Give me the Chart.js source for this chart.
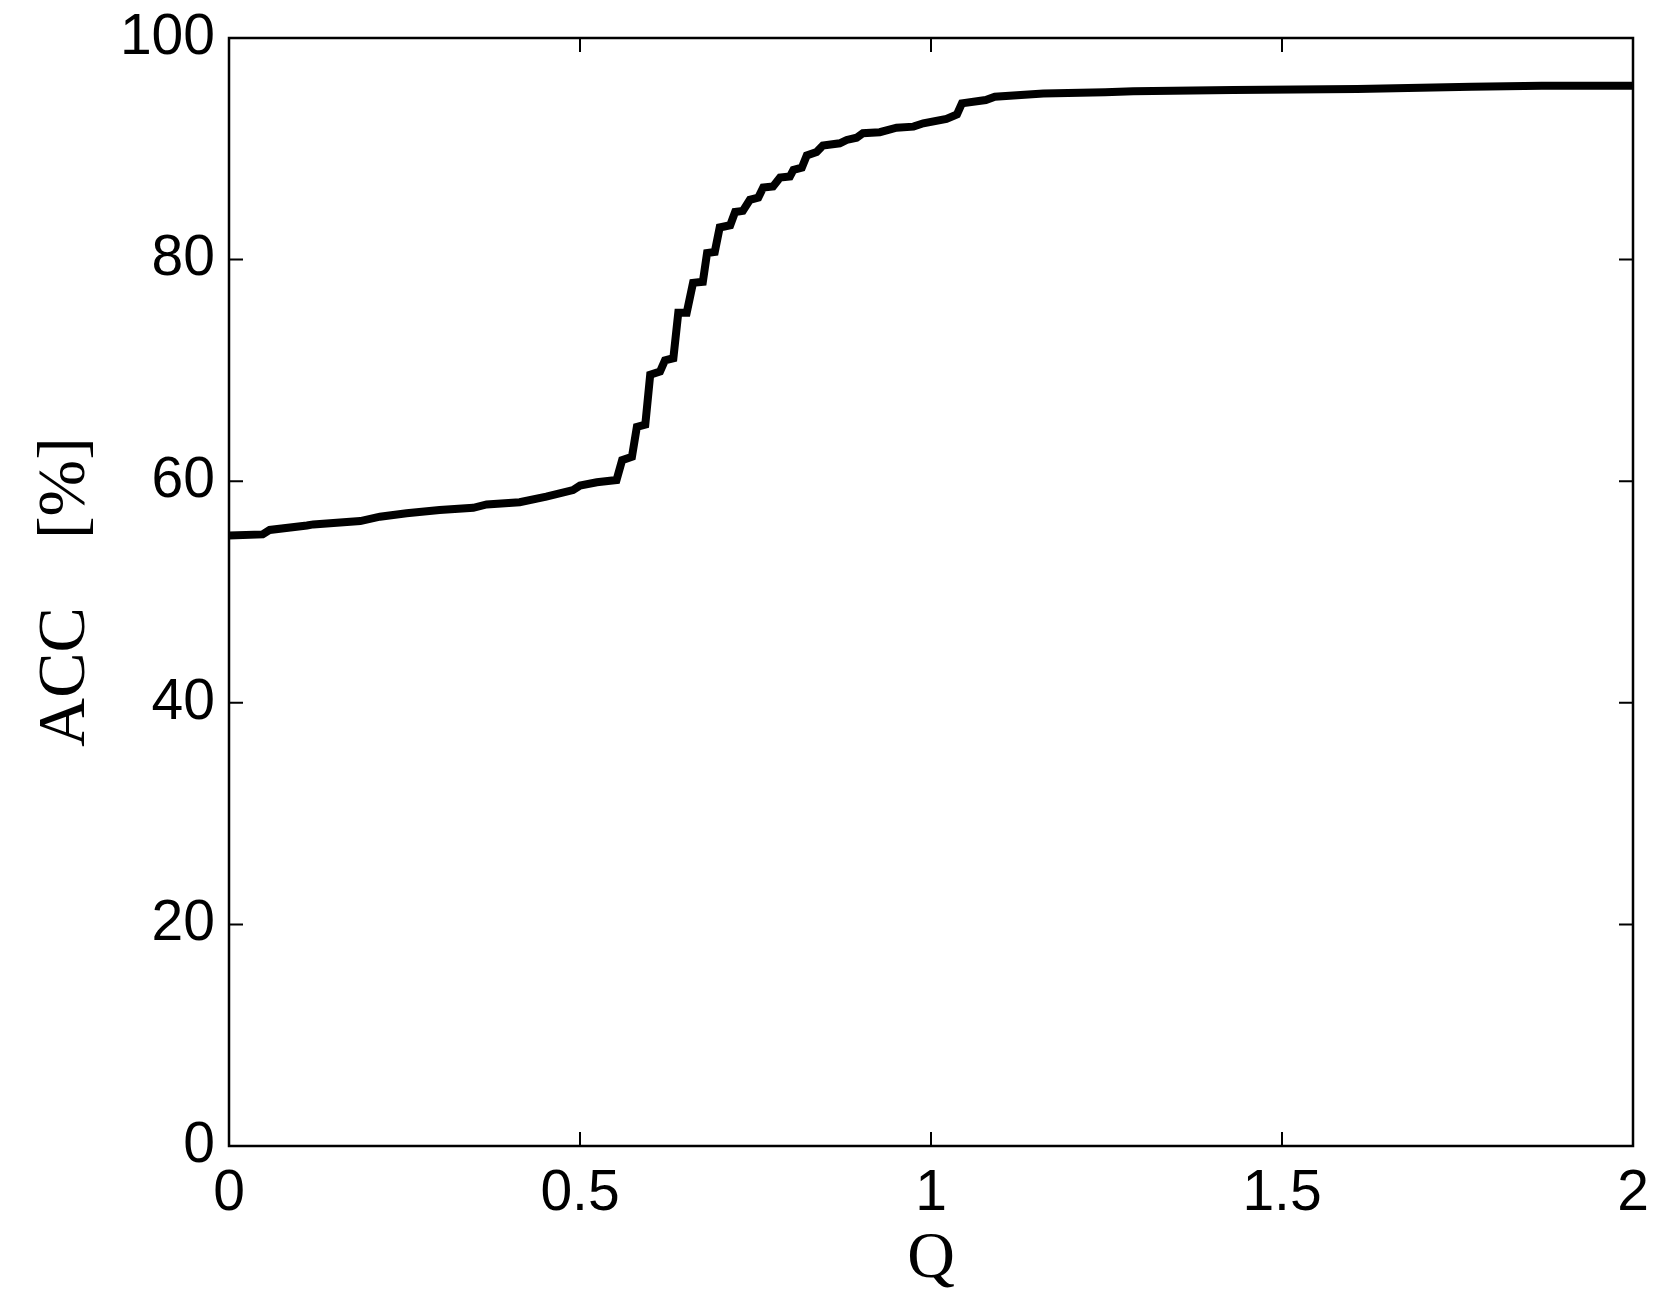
<!DOCTYPE html>
<html>
<head>
<meta charset="utf-8">
<script src="https://cdn.jsdelivr.net/npm/chart.js@4/dist/chart.umd.min.js"></script>
<style>
  html, body { margin: 0; padding: 0; background: #ffffff; }
  #wrap { width: 1668px; height: 1303px; }
</style>
</head>
<body>
<div id="wrap"><canvas id="c" width="1668" height="1303"></canvas></div>
<script>
// Data
const qValues = [0, 0.048, 0.058, 0.111, 0.12, 0.187, 0.215, 0.253, 0.3, 0.348, 0.367, 0.414, 0.452, 0.49, 0.5, 0.524, 0.552, 0.56, 0.574, 0.581, 0.593, 0.6, 0.614, 0.621, 0.633, 0.64, 0.652, 0.661, 0.675, 0.681, 0.692, 0.699, 0.714, 0.721, 0.732, 0.742, 0.754, 0.761, 0.775, 0.785, 0.799, 0.804, 0.816, 0.823, 0.837, 0.846, 0.870, 0.880, 0.894, 0.903, 0.927, 0.951, 0.975, 0.989, 1.022, 1.037, 1.044, 1.078, 1.091, 1.16, 1.248, 1.288, 1.43, 1.607, 1.77, 1.87, 2.0];
const accValues = [55.1, 55.2, 55.6, 56.0, 56.1, 56.4, 56.8, 57.1, 57.4, 57.6, 57.9, 58.1, 58.6, 59.2, 59.6, 59.9, 60.1, 61.9, 62.2, 64.9, 65.1, 69.6, 69.9, 70.9, 71.1, 75.2, 75.2, 77.9, 78.0, 80.6, 80.7, 82.9, 83.1, 84.3, 84.4, 85.4, 85.6, 86.5, 86.6, 87.4, 87.5, 88.1, 88.3, 89.4, 89.7, 90.3, 90.5, 90.8, 91.0, 91.4, 91.5, 91.9, 92.0, 92.3, 92.7, 93.1, 94.1, 94.4, 94.7, 95.0, 95.1, 95.2, 95.3, 95.4, 95.6, 95.7, 95.7];
const xTicks = [0, 0.5, 1, 1.5, 2];
const yTicks = [0, 20, 40, 60, 80, 100];
const xTitle = 'Q';
const yTitle = 'ACC    [%]';

const points = qValues.map((q, i) => ({ x: q, y: accValues[i] }));

const framePlugin = {
  id: 'matlabFrame',
  afterDraw(chart) {
    const { ctx, chartArea: a, scales } = chart;
    const tl = 14;
    ctx.save();
    ctx.strokeStyle = '#000';
    ctx.lineWidth = 2.5;
    ctx.beginPath();
    ctx.rect(a.left, a.top, a.right - a.left, a.bottom - a.top);
    ctx.stroke();
    ctx.lineWidth = 2;
    ctx.beginPath();
    xTicks.forEach(v => {
      const px = scales.x.getPixelForValue(v);
      ctx.moveTo(px, a.bottom); ctx.lineTo(px, a.bottom - tl);
      ctx.moveTo(px, a.top); ctx.lineTo(px, a.top + tl);
    });
    yTicks.forEach(v => {
      const py = scales.y.getPixelForValue(v);
      ctx.moveTo(a.left, py); ctx.lineTo(a.left + tl, py);
      ctx.moveTo(a.right, py); ctx.lineTo(a.right - tl, py);
    });
    ctx.stroke();
    ctx.restore();
  }
};

new Chart(document.getElementById('c'), {
  type: 'line',
  data: {
    datasets: [{
      data: points,
      borderColor: '#000',
      borderWidth: 8,
      pointRadius: 0,
      tension: 0,
      fill: false,
      borderJoinStyle: 'miter',
      borderCapStyle: 'butt'
    }]
  },
  options: {
    responsive: false,
    animation: false,
    devicePixelRatio: 1,
    layout: { padding: { top: 38, right: 35, left: 0, bottom: 0 } },
    plugins: { legend: { display: false }, tooltip: { enabled: false } },
    scales: {
      x: {
        type: 'linear',
        min: 0, max: 2,
        afterBuildTicks(s) { s.ticks = xTicks.map(v => ({ value: v })); },
        afterFit(s) { s.height = 157; s.paddingLeft = 0; s.paddingRight = 0; },
        grid: { display: false, drawTicks: false },
        border: { display: false },
        ticks: {
          color: '#000',
          padding: 14,
          font: { family: '"Liberation Sans", Arial, sans-serif', size: 57 },
          callback: v => String(v),
          maxRotation: 0
        },
        title: {
          display: true, text: xTitle, color: '#000',
          font: { family: '"Liberation Serif", "DejaVu Serif", serif', size: 66, weight: 'normal' },
          padding: { top: 0, bottom: 4 }
        }
      },
      y: {
        min: 0, max: 100,
        afterBuildTicks(s) { s.ticks = yTicks.map(v => ({ value: v })); },
        afterFit(s) { s.width = 229; s.paddingTop = 0; s.paddingBottom = 0; },
        grid: { display: false, drawTicks: false },
        border: { display: false },
        ticks: {
          color: '#000',
          padding: 14,
          font: { family: '"Liberation Sans", Arial, sans-serif', size: 57 }
        },
        title: {
          display: true, text: yTitle, color: '#000',
          font: { family: '"Liberation Serif", "DejaVu Serif", serif', size: 68, weight: 'normal' },
          padding: { top: 25, bottom: 0 }
        }
      }
    }
  },
  plugins: [framePlugin]
});
</script>
</body>
</html>
